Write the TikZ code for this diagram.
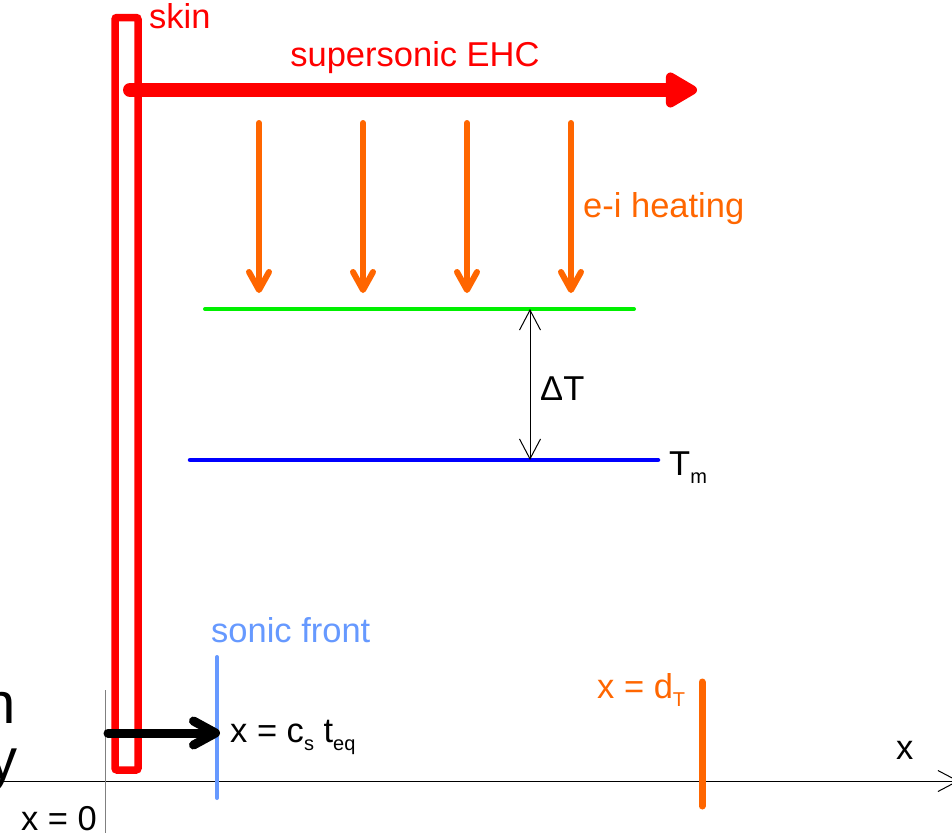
\documentclass[tikz,border=0pt]{standalone}
\usepackage{fontspec}
\setmainfont{Liberation Sans}
\usetikzlibrary{arrows.meta}

\definecolor{skinred}{RGB}{255,0,0}
\definecolor{heatorange}{RGB}{255,102,0}
\definecolor{hotgreen}{RGB}{0,240,0}
\definecolor{meltblue}{RGB}{0,0,255}
\definecolor{sonicblue}{RGB}{102,153,255}
\newcommand{\lowtxt}[1]{\raisebox{-8pt}{\fontsize{20}{20}\selectfont #1}}

\begin{document}
\begin{tikzpicture}[x=1pt, y=-1pt, font=\fontsize{34.5}{40}\selectfont,
    lbl/.style={inner sep=0pt, anchor=base west},
    heat/.style={heatorange, line width=6pt, line cap=round,
      -{Straight Barb[length=18pt,width=20pt,round]}},
    push/.style={black, line width=9pt, line cap=round,
      -{Straight Barb[length=22pt,width=24pt,round]}},
    ehc/.style={skinred, line width=14pt, line cap=round,
      -{Triangle[length=36pt,width=39pt,round]}},
    gap/.style={black, line width=1pt,
      {Straight Barb[length=20pt,width=21pt]}-{Straight Barb[length=20pt,width=21pt]}}]

  \useasboundingbox (0,0) rectangle (952,833);
  \clip (0,0) rectangle (952,833);

  % cut-off text at the left edge
  \node[inner sep=0pt, anchor=base east, font=\fontsize{58}{58}\selectfont] (fragn) at (16,723) {n};
  \node[inner sep=0pt, anchor=base east, font=\fontsize{58}{58}\selectfont] (fragy) at (18,779) {y};

  % axes
  \coordinate (axisL) at (0,781);
  \coordinate (axisR) at (959,781);
  \coordinate (zeroT) at (105,690);
  \coordinate (zeroB) at (105,833);
  \draw[line width=1pt, -{Straight Barb[length=20pt,width=21pt]}] (axisL) -- (axisR);
  \draw[gray, line width=1pt] (zeroT) -- (zeroB);
  \node[lbl] (xlab) at (896,759) {x};
  \node[inner sep=0pt, anchor=base east] (xzero) at (97,830) {x = 0};

  % skin layer
  \draw[skinred, line width=7.5pt, rounded corners=2pt] (115,17.5) rectangle (138,770);
  \node[lbl, skinred] (skin) at (149,28) {skin};

  % supersonic EHC
  \coordinate (ehcA) at (130,90);
  \coordinate (ehcB) at (697,90);
  \draw[ehc] (ehcA) -- (ehcB);
  \node[inner sep=0pt, anchor=base, skinred] (ehclab) at (415,66) {supersonic EHC};

  % e-i heating
  \foreach \i/\xx in {1/259, 2/363, 3/467, 4/571} {
    \coordinate (heatA\i) at (\xx,123);
    \coordinate (heatB\i) at (\xx,293);
    \draw[heat] (heatA\i) -- (heatB\i);
  }
  \node[lbl, heatorange] (heating) at (583,217) {e-i heating};

  % temperature levels
  \coordinate (hotL) at (205,309);
  \coordinate (hotR) at (634,309);
  \coordinate (meltL) at (190,460);
  \coordinate (meltR) at (658,460);
  \draw[hotgreen, line width=4pt, line cap=round] (hotL) -- (hotR);
  \draw[meltblue, line width=4.5pt, line cap=round] (meltL) -- (meltR);
  \node[lbl] (Tm) at (669,475) {T\lowtxt{m}};

  \coordinate (gapT) at (530,309);
  \coordinate (gapB) at (530,460);
  \draw[gap] (gapT) -- (gapB);
  \node[lbl] (dT) at (540,400) {ΔT};

  % sonic front
  \coordinate (sonicT) at (217,657);
  \coordinate (sonicB) at (217,798);
  \draw[sonicblue, line width=4pt, line cap=round] (sonicT) -- (sonicB);
  \node[lbl, sonicblue] (sonic) at (211,642) {sonic front};

  \coordinate (pushA) at (108,733);
  \coordinate (pushB) at (220,733);
  \draw[push] (pushA) -- (pushB);
  \node[lbl] (cst) at (230,742) {x = c\lowtxt{s} t\lowtxt{eq}};

  % thermal depth
  \coordinate (depthT) at (702,682);
  \coordinate (depthB) at (702,806);
  \draw[heatorange, line width=7pt, line cap=round] (depthT) -- (depthB);
  \node[lbl, heatorange] (depth) at (597,698) {x = d\lowtxt{T}};

\end{tikzpicture}
\end{document}
